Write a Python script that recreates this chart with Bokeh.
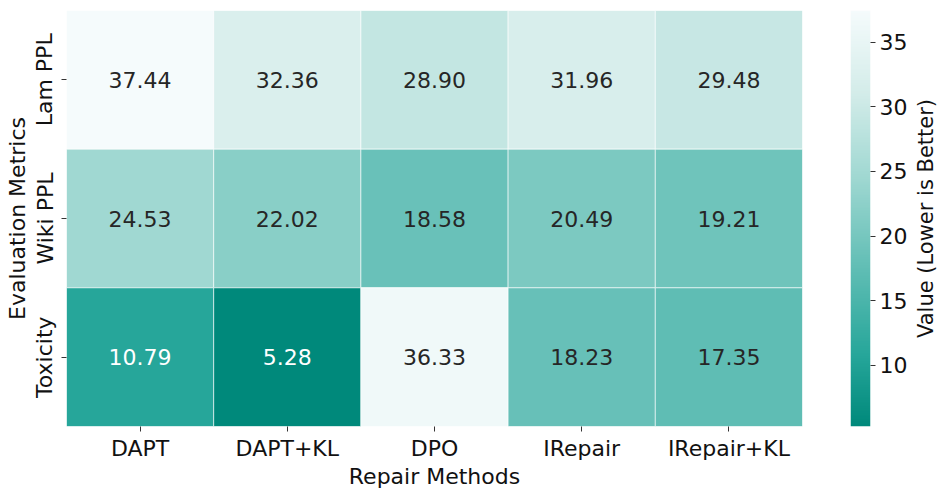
import numpy as np
from bokeh.plotting import figure
from bokeh.models import ColumnDataSource, LinearColorMapper, FactorRange, Range1d, FixedTicker
from bokeh.layouts import row
from bokeh.core.properties import value
from bokeh.embed import file_html
from bokeh.resources import INLINE

methods = ["DAPT", "DAPT+KL", "DPO", "IRepair", "IRepair+KL"]
metrics = ["Lam PPL", "Wiki PPL", "Toxicity"]
lam_ppl = [37.44, 32.36, 28.90, 31.96, 29.48]
wiki_ppl = [24.53, 22.02, 18.58, 20.49, 19.21]
toxicity = [10.79, 5.28, 36.33, 18.23, 17.35]
cbar_ticks = [10, 15, 20, 25, 30, 35]

FONT = "DejaVu Sans"
FS = "22px"

# colour palette (dark teal -> near white)
anchor_pos = [0.0, 0.17, 0.40, 0.60, 0.80, 1.0]
anchor_col = ["#00897b", "#26a69a", "#66c0b7", "#a0d8d2", "#d3ece9", "#f5fbfc"]
def hex2rgb(h):
    return [int(h[i:i + 2], 16) for i in (1, 3, 5)]
rgbs = np.array([hex2rgb(c) for c in anchor_col], dtype=float)
palette = []
for t in np.linspace(0, 1, 256):
    r = np.interp(t, anchor_pos, rgbs[:, 0])
    g = np.interp(t, anchor_pos, rgbs[:, 1])
    b = np.interp(t, anchor_pos, rgbs[:, 2])
    palette.append("#%02x%02x%02x" % (int(round(r)), int(round(g)), int(round(b))))

rows = {"Lam PPL": lam_ppl, "Wiki PPL": wiki_ppl, "Toxicity": toxicity}
all_vals = lam_ppl + wiki_ppl + toxicity
vmin, vmax = min(all_vals), max(all_vals)
mapper = LinearColorMapper(palette=palette, low=vmin, high=vmax)

xs, ys, vs, labels, tcols = [], [], [], [], []
for m in metrics:
    for meth, v in zip(methods, rows[m]):
        xs.append(meth)
        ys.append(m)
        vs.append(v)
        labels.append("%.2f" % v)
        tcols.append("#ffffff" if (v - vmin) / (vmax - vmin) < 0.25 else "#262626")
src = ColumnDataSource(dict(x=xs, y=ys, v=vs, label=labels, tcol=tcols))

TOP = 10
BOTTOM = 62
FH = 416

p = figure(frame_width=736, frame_height=FH, output_backend="svg", toolbar_location=None,
           x_range=FactorRange(*methods), y_range=FactorRange(*metrics[::-1]),
           min_border_left=66, min_border_right=20, min_border_top=TOP, min_border_bottom=BOTTOM)
p.rect(x="x", y="y", width=1, height=1, source=src,
       fill_color={"field": "v", "transform": mapper},
       line_color="white", line_width=1, line_alpha=0.6)
p.text(x="x", y="y", text="label", source=src, text_align="center", text_baseline="middle",
       text_font=value(FONT), text_font_size=FS, text_color="tcol")

p.outline_line_color = None
p.grid.visible = False
for ax in (p.xaxis[0], p.yaxis[0]):
    ax.axis_line_color = None
    ax.major_tick_line_color = "#333333"
    ax.major_tick_out = 5
    ax.major_tick_in = 0
    ax.major_label_text_font = FONT
    ax.major_label_text_font_size = FS
    ax.major_label_text_color = "#111111"
    ax.axis_label_text_font = FONT
    ax.axis_label_text_font_size = FS
    ax.axis_label_text_font_style = "normal"
    ax.axis_label_text_color = "#111111"
    ax.major_label_standoff = 4
    ax.axis_label_standoff = 0
p.xaxis.axis_label = "Repair Methods"
p.yaxis.axis_label = "Evaluation Metrics"
p.yaxis.major_label_orientation = "vertical"

# colour bar as its own small figure
cb = figure(frame_width=20, frame_height=FH, output_backend="svg", toolbar_location=None,
            x_range=Range1d(0, 1), y_range=Range1d(vmin, vmax),
            min_border_left=28, min_border_right=36, min_border_top=TOP, min_border_bottom=BOTTOM,
            y_axis_location="right")
cb.image(image=[np.linspace(vmin, vmax, 256).reshape(-1, 1)], x=0, y=vmin, dw=1, dh=vmax - vmin,
         color_mapper=mapper)
cb.xaxis.visible = False
cb.grid.visible = False
cb.outline_line_color = None
yax = cb.yaxis[0]
yax.ticker = FixedTicker(ticks=cbar_ticks)
yax.axis_line_color = None
yax.minor_tick_line_color = None
yax.major_tick_line_color = "#333333"
yax.major_tick_out = 5
yax.major_tick_in = 0
yax.major_label_standoff = 4
yax.major_label_text_font = FONT
yax.major_label_text_font_size = FS
yax.major_label_text_color = "#111111"

# colour bar title (reads bottom-to-top) as a label-only axis
lab = figure(frame_width=1, frame_height=FH, output_backend="svg", toolbar_location=None,
             x_range=Range1d(0, 1), y_range=Range1d(vmin, vmax),
             min_border_left=0, min_border_right=0, min_border_top=TOP, min_border_bottom=BOTTOM)
lab.xaxis.visible = False
lab.grid.visible = False
lab.outline_line_color = None
lax = lab.yaxis[0]
lax.ticker = FixedTicker(ticks=[])
lax.minor_tick_line_color = None
lax.major_tick_line_color = None
lax.axis_line_color = None
lax.axis_label = "Value (Lower is Better)"
lax.axis_label_text_font = FONT
lax.axis_label_text_font_size = "21px"
lax.axis_label_text_font_style = "normal"
lax.axis_label_text_color = "#111111"
lax.axis_label_standoff = 0

layout = row(p, cb, lab)
open("out.html", "w").write(file_html(layout, INLINE))
